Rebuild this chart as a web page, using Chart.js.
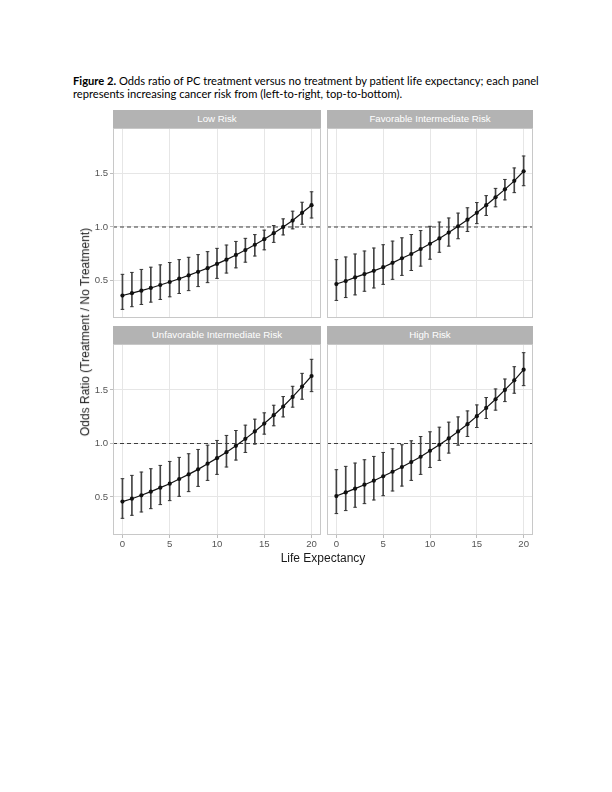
<!DOCTYPE html>
<html><head><meta charset="utf-8">
<script src="https://cdn.jsdelivr.net/npm/chart.js@4"></script>
<style>
body{margin:0;background:#fff;width:612px;height:792px;position:relative;overflow:hidden;font-family:"Liberation Sans",Arial,sans-serif;}
.cap{position:absolute;left:73px;font-family:Lato,"Open Sans",sans-serif;color:#000;white-space:nowrap;line-height:1;}
.strip{position:absolute;background:#b3b3b3;color:#fff;font-size:9.7px;text-align:center;display:flex;align-items:center;justify-content:center;}
.cv{position:absolute;}
.ytitle{position:absolute;font-size:12px;color:#1a1a1a;white-space:nowrap;transform-origin:center center;}
.xtitle{position:absolute;font-size:12px;color:#1a1a1a;white-space:nowrap;}
</style></head><body>
<div class="cap" id="cap1"><b>Figure 2.</b> Odds ratio of PC treatment versus no treatment by patient life expectancy; each panel</div>
<div class="cap" id="cap2">represents increasing cancer risk from (left-to-right, top-to-bottom).</div>

<div class="strip" id="s0"></div><div class="strip" id="s1"></div>
<div class="strip" id="s2"></div><div class="strip" id="s3"></div>
<canvas class="cv" id="c0"></canvas><canvas class="cv" id="c1"></canvas>
<canvas class="cv" id="c2"></canvas><canvas class="cv" id="c3"></canvas>
<div class="ytitle" id="yt">Odds Ratio (Treatment / No Treatment)</div>
<div class="xtitle" id="xt">Life Expectancy</div>
<script>
// ---------- data ----------
const lifeExpectancy = [0,1,2,3,4,5,6,7,8,9,10,11,12,13,14,15,16,17,18,19,20];
const panelTitles = ["Low Risk","Favorable Intermediate Risk","Unfavorable Intermediate Risk","High Risk"];

const lowEst = [0.356,0.378,0.402,0.427,0.455,0.483,0.514,0.545,0.579,0.613,0.653,0.693,0.737,0.783,0.833,0.885,0.941,1.000,1.060,1.133,1.204];
const lowLo  = [0.226,0.251,0.272,0.294,0.319,0.344,0.375,0.402,0.440,0.477,0.517,0.567,0.616,0.669,0.727,0.785,0.855,0.925,0.982,1.025,1.084];
const lowHi  = [0.555,0.573,0.601,0.622,0.644,0.666,0.693,0.715,0.740,0.768,0.799,0.830,0.864,0.893,0.928,0.970,1.013,1.076,1.148,1.232,1.330];

const favEst = [0.464,0.492,0.526,0.557,0.588,0.622,0.663,0.706,0.746,0.793,0.842,0.892,0.947,1.006,1.068,1.133,1.204,1.279,1.353,1.433,1.523];
const favLo  = [0.310,0.337,0.362,0.396,0.427,0.461,0.508,0.545,0.591,0.632,0.697,0.762,0.820,0.889,0.957,1.031,1.108,1.189,1.254,1.322,1.387];
const favHi  = [0.693,0.718,0.746,0.774,0.802,0.833,0.867,0.898,0.929,0.966,1.006,1.046,1.084,1.130,1.180,1.229,1.294,1.362,1.446,1.554,1.666];

const unfavEst = [0.457,0.484,0.516,0.550,0.587,0.624,0.668,0.711,0.758,0.811,0.863,0.919,0.978,1.043,1.112,1.186,1.264,1.345,1.435,1.531,1.630];
const unfavLo  = [0.301,0.329,0.360,0.391,0.429,0.466,0.506,0.550,0.599,0.655,0.711,0.780,0.845,0.916,0.994,1.087,1.165,1.248,1.339,1.413,1.484];
const unfavHi  = [0.671,0.702,0.733,0.764,0.795,0.832,0.870,0.904,0.944,0.984,1.028,1.075,1.121,1.171,1.227,1.286,1.357,1.438,1.534,1.655,1.786];

const highEst = [0.509,0.543,0.578,0.615,0.652,0.693,0.736,0.780,0.826,0.876,0.932,0.988,1.047,1.112,1.180,1.255,1.332,1.413,1.500,1.590,1.689];
const highLo  = [0.345,0.373,0.404,0.438,0.472,0.512,0.556,0.602,0.655,0.711,0.776,0.842,0.910,0.984,1.065,1.149,1.233,1.311,1.391,1.469,1.540];
const highHi  = [0.755,0.786,0.817,0.848,0.879,0.916,0.950,0.988,1.025,1.065,1.109,1.152,1.199,1.248,1.304,1.360,1.429,1.509,1.602,1.717,1.848];

const xTicks = [0,5,10,15,20];
const yTicks = [0.5,1.0,1.5];
const referenceOR = 1;
const xLimits = [-1,21];
const yLimits = [0.145,1.929];

// ---------- layout ----------
const FONT = '"Liberation Sans", Arial, sans-serif';
const panels = [
  {est:lowEst,   lo:lowLo,   hi:lowHi,   left:83,  top:128, w:238, h:190, showY:true,  showX:false, strip:[113,109.5,208,18.5]},
  {est:favEst,   lo:favLo,   hi:favHi,   left:327, top:128, w:206, h:190, showY:false, showX:false, strip:[327,109.5,206,18.5]},
  {est:unfavEst, lo:unfavLo, hi:unfavHi, left:83,  top:344, w:238, h:211, showY:true,  showX:true,  strip:[113,325.5,208,18.5]},
  {est:highEst,  lo:highLo,  hi:highHi,  left:327, top:344, w:206, h:211, showY:false, showX:true,  strip:[327,325.5,206,18.5]}
];

// caption fit
(function(){
  const c1=document.getElementById('cap1'), c2=document.getElementById('cap2');
  c1.style.fontSize='11px'; c2.style.fontSize='11px';
  const w=c1.getBoundingClientRect().width;
  const fs=11*466/w;
  c1.style.fontSize=fs+'px'; c2.style.fontSize=fs+'px';
  c1.style.top=(80.7-fs*0.55)+'px'; c2.style.top=(94.3-fs*0.55)+'px';
})();

const refLinePlugin = {
  id:'refLine',
  beforeDatasetsDraw(chart){
    const {ctx, chartArea:a, scales:{y}} = chart;
    const py = y.getPixelForValue(referenceOR);
    ctx.save();
    ctx.strokeStyle='#3d3d3d'; ctx.lineWidth=1.1; ctx.setLineDash([4,3]);
    ctx.beginPath(); ctx.moveTo(a.left,py); ctx.lineTo(a.right,py); ctx.stroke();
    ctx.restore();
  }
};
const framePlugin = {
  id:'frame',
  afterDraw(chart){
    const {ctx, chartArea:a} = chart;
    ctx.save(); ctx.strokeStyle='#c8c8c8'; ctx.lineWidth=1;
    ctx.strokeRect(a.left+0.5,a.top+0.5,a.right-a.left-1,a.bottom-a.top-1);
    ctx.restore();
  }
};

panels.forEach((p,k)=>{
  const s=document.getElementById('s'+k);
  s.textContent=panelTitles[k];
  s.style.left=p.strip[0]+'px'; s.style.top=p.strip[1]+'px';
  s.style.width=p.strip[2]+'px'; s.style.height=p.strip[3]+'px';
  const cv=document.getElementById('c'+k);
  cv.width=p.w; cv.height=p.h;
  cv.style.left=p.left+'px'; cv.style.top=p.top+'px';
  cv.style.width=p.w+'px'; cv.style.height=p.h+'px';
  const pts = lifeExpectancy.map((x,i)=>({x:x,y:p.est[i]}));
  const bars = lifeExpectancy.map((x,i)=>({x:x,y:[p.lo[i],p.hi[i]]}));
  const los = lifeExpectancy.map((x,i)=>({x:x,y:p.lo[i]}));
  const his = lifeExpectancy.map((x,i)=>({x:x,y:p.hi[i]}));
  new Chart(cv,{
    type:'scatter',
    data:{datasets:[
      {type:'line', data:pts, borderColor:'#111', borderWidth:1.2, pointRadius:2.1, pointBackgroundColor:'#111', pointBorderWidth:0, pointHoverRadius:0, tension:0, order:0},
      {type:'scatter', data:los, pointStyle:'line', pointRadius:1.8, pointBorderColor:'#383838', pointBorderWidth:1, pointHoverRadius:0, order:1},
      {type:'scatter', data:his, pointStyle:'line', pointRadius:1.8, pointBorderColor:'#383838', pointBorderWidth:1, pointHoverRadius:0, order:1},
      {type:'bar', data:bars, backgroundColor:'#444', barThickness:1, borderWidth:0, order:2}
    ]},
    options:{
      responsive:false, animation:false, events:[],
      layout:{padding:0, autoPadding:false},
      plugins:{legend:{display:false}, tooltip:{enabled:false}},
      scales:{
        x:{type:'linear', min:xLimits[0], max:xLimits[1], offset:false,
           afterBuildTicks:s=>{s.ticks=xTicks.map(v=>({value:v}));},
           afterFit:s=>{s.height=p.showX?20:0; s.paddingLeft=0; s.paddingRight=0; s.paddingTop=0; s.paddingBottom=0;},
           grid:{color:'#e6e6e6', lineWidth:1, offset:false, drawTicks:p.showX, tickLength:3, tickColor:'#bdbdbd'},
           border:{display:false},
           ticks:{display:true, color:p.showX?'#555':'rgba(0,0,0,0)', font:{family:FONT,size:9.6}, padding:1, maxRotation:0, autoSkip:false}},
        y:{type:'linear', min:yLimits[0], max:yLimits[1],
           afterBuildTicks:s=>{s.ticks=yTicks.map(v=>({value:v}));},
           afterFit:s=>{s.width=p.showY?30:0; s.paddingLeft=0; s.paddingRight=0; s.paddingTop=0; s.paddingBottom=0;},
           grid:{color:'#e6e6e6', lineWidth:1, drawTicks:p.showY, tickLength:3, tickColor:'#bdbdbd'},
           border:{display:false},
           ticks:{display:true, color:p.showY?'#555':'rgba(0,0,0,0)', font:{family:FONT,size:9.6}, padding:2, autoSkip:false, callback:v=>Number(v).toFixed(1)}}
      }
    },
    plugins:[refLinePlugin, framePlugin]
  });
});

// axis titles
(function(){
  const yt=document.getElementById('yt');
  const r=yt.getBoundingClientRect();
  yt.style.left=(85-r.width/2)+'px'; yt.style.top=(331.5-r.height/2)+'px';
  yt.style.transform='rotate(-90deg)';
  const xt=document.getElementById('xt');
  const r2=xt.getBoundingClientRect();
  xt.style.left=(323-r2.width/2)+'px'; xt.style.top=(558-r2.height/2)+'px';
})();
</script>
</body></html>
